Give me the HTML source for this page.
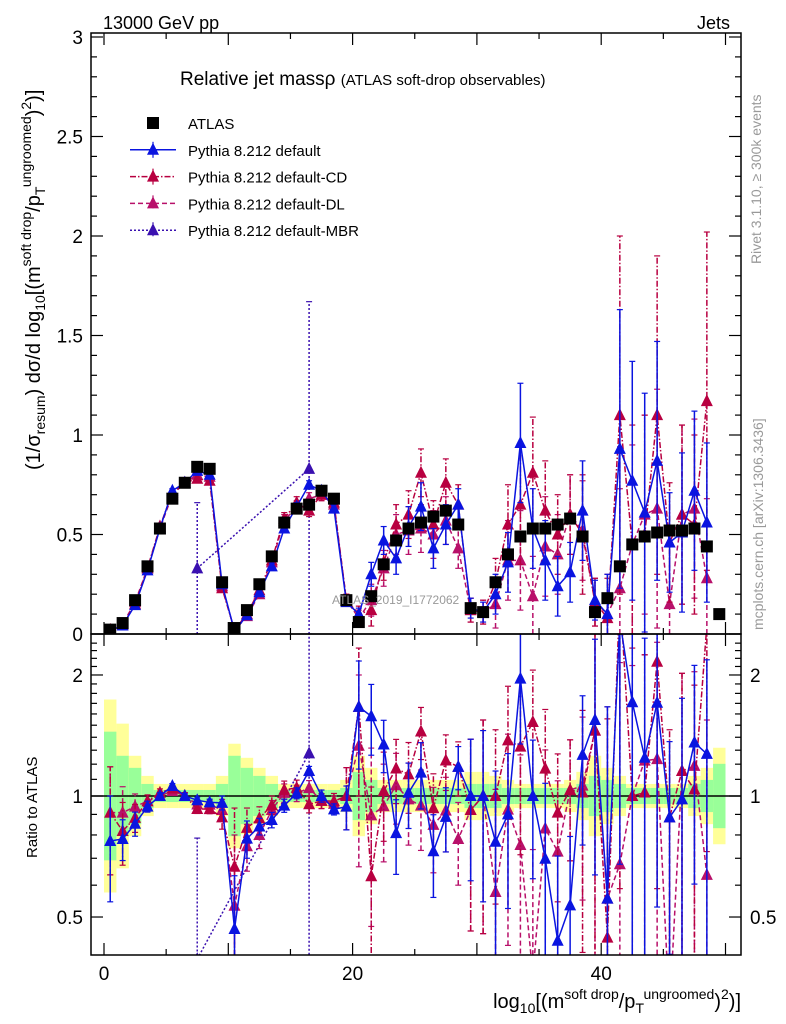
<!DOCTYPE html>
<html><head><meta charset="utf-8"><style>
html,body{margin:0;padding:0;background:#fff;width:786px;height:1024px;overflow:hidden;}
svg{display:block;font-family:"Liberation Sans",sans-serif;}
</style></head><body>
<svg id="chart" width="786" height="1024" viewBox="0 0 786 1024" xmlns="http://www.w3.org/2000/svg">
<defs>
<clipPath id="cm"><rect x="91" y="33" width="650" height="601"/></clipPath>
<clipPath id="cr"><rect x="91" y="634" width="650" height="321"/></clipPath>
</defs>
<g id="bands" clip-path="url(#cr)"></g>
<g id="ratio" clip-path="url(#cr)"></g>
<g id="main" clip-path="url(#cm)"></g>
<g id="axes"></g>
<text x="103" y="29" font-size="18">13000 GeV pp</text>
<text x="730" y="29" font-size="18" text-anchor="end">Jets</text>
<text x="180" y="85" font-size="19">Relative jet massρ <tspan font-size="15">(ATLAS soft-drop observables)</tspan></text>
<text x="332" y="604" font-size="12" fill="#999">ATLAS_2019_I1772062</text>
<text transform="translate(761,264) rotate(-90)" font-size="14" fill="#999">Rivet 3.1.10, ≥ 300k events</text>
<text transform="translate(763,630) rotate(-90)" font-size="14" fill="#999">mcplots.cern.ch [arXiv:1306.3436]</text>
<text transform="translate(40,470) rotate(-90)" font-size="20">(1/σ<tspan font-size="14" dy="5">resum</tspan><tspan dy="-5">) dσ/d log</tspan><tspan font-size="14" dy="5">10</tspan><tspan dy="-5">[(m</tspan><tspan font-size="14" dy="-9">soft drop</tspan><tspan dy="9">/p</tspan><tspan font-size="14" dy="5">T</tspan><tspan font-size="14" dy="-14">ungroomed</tspan><tspan dy="9">)</tspan><tspan font-size="14" dy="-9">2</tspan><tspan dy="9">)]</tspan></text>
<text transform="translate(37,858) rotate(-90)" font-size="15">Ratio to ATLAS</text>
<text x="741" y="1008" font-size="20" text-anchor="end">log<tspan font-size="14" dy="5">10</tspan><tspan dy="-5">[(m</tspan><tspan font-size="14" dy="-9">soft drop</tspan><tspan dy="9">/p</tspan><tspan font-size="14" dy="5">T</tspan><tspan font-size="14" dy="-14">ungroomed</tspan><tspan dy="9">)</tspan><tspan font-size="14" dy="-9">2</tspan><tspan dy="9">)]</tspan></text>
<g id="legend"></g>
</svg>
<script>
var atlas=[0.022,0.055,0.17,0.34,0.53,0.68,0.76,0.84,0.83,0.26,0.03,0.12,0.25,0.39,0.56,0.63,0.65,0.72,0.68,0.17,0.06,0.19,0.35,0.47,0.53,0.56,0.59,0.62,0.55,0.13,0.11,0.26,0.40,0.49,0.53,0.53,0.55,0.58,0.49,0.11,0.18,0.34,0.45,0.49,0.51,0.52,0.52,0.53,0.44,0.10];
var bandGreen=[0.16,0.1,0.07,0.03,0.015,0.015,0.015,0.015,0.015,0.03,0.1,0.07,0.05,0.03,0.015,0.015,0.015,0.015,0.015,0.02,0.06,0.04,0.02,0.02,0.02,0.02,0.02,0.02,0.02,0.03,0.03,0.03,0.02,0.02,0.02,0.02,0.02,0.02,0.03,0.05,0.04,0.03,0.02,0.02,0.02,0.02,0.02,0.03,0.04,0.08];
var bandYellow=[0.24,0.18,0.1,0.05,0.03,0.03,0.03,0.03,0.03,0.05,0.13,0.095,0.07,0.05,0.03,0.03,0.03,0.03,0.03,0.04,0.1,0.07,0.04,0.04,0.04,0.04,0.04,0.04,0.04,0.06,0.06,0.05,0.04,0.03,0.03,0.03,0.03,0.04,0.06,0.1,0.07,0.05,0.03,0.03,0.03,0.03,0.03,0.05,0.07,0.12];
var sDef=[0.017,0.043,0.145,0.32,0.53,0.72,0.76,0.82,0.80,0.25,0.014,0.094,0.21,0.34,0.53,0.64,0.75,0.72,0.63,0.16,0.10,0.30,0.47,0.38,0.54,0.64,0.43,0.55,0.65,0.13,0.11,0.20,0.36,0.96,0.53,0.37,0.24,0.31,0.62,0.17,0.10,0.93,0.77,0.61,0.87,0.46,0.51,0.72,0.56,null];
var eDef=[0.005,0.005,0.01,0.01,0.01,0.01,0.01,0.015,0.015,0.01,0.005,0.01,0.01,0.015,0.02,0.02,0.02,0.025,0.02,0.02,0.03,0.06,0.07,0.08,0.1,0.12,0.1,0.1,0.08,0.05,0.05,0.1,0.15,0.3,0.2,0.2,0.15,0.15,0.25,0.1,0.2,0.7,0.6,0.6,0.6,0.25,0.4,0.4,0.4,0];
var sCD=[0.02,0.045,0.15,0.33,0.54,0.71,0.76,0.78,0.77,0.23,0.02,0.10,0.22,0.37,0.58,0.66,0.62,0.70,0.66,0.17,0.10,0.12,0.36,0.55,0.60,0.81,0.55,0.76,0.65,0.12,0.11,0.26,0.55,0.65,0.81,0.62,0.50,0.60,0.50,0.16,0.08,1.10,0.45,0.50,1.10,0.46,0.60,0.55,1.17,null];
var eCD=[0.006,0.008,0.012,0.012,0.012,0.012,0.015,0.02,0.02,0.015,0.008,0.012,0.015,0.02,0.03,0.03,0.03,0.03,0.03,0.03,0.04,0.08,0.09,0.1,0.12,0.12,0.12,0.12,0.1,0.06,0.06,0.12,0.2,0.3,0.28,0.25,0.2,0.2,0.3,0.12,0.2,0.9,0.6,0.6,0.8,0.3,0.45,0.45,0.85,0];
var sDL=[0.02,0.05,0.16,0.33,0.53,0.70,0.76,0.80,0.79,0.24,0.016,0.09,0.20,0.36,0.57,0.64,0.68,0.70,0.65,0.17,0.08,0.17,0.33,0.50,0.52,0.53,0.50,0.57,0.43,0.12,0.11,0.15,0.37,0.37,0.19,0.44,0.40,0.60,0.52,0.16,0.10,0.23,0.45,0.60,0.63,0.15,0.60,0.63,0.28,null];
var eDL=[0.006,0.008,0.012,0.012,0.012,0.012,0.015,0.02,0.02,0.015,0.008,0.012,0.015,0.02,0.03,0.03,0.03,0.03,0.03,0.03,0.04,0.08,0.09,0.1,0.12,0.12,0.12,0.12,0.1,0.06,0.06,0.12,0.2,0.25,0.2,0.25,0.2,0.2,0.25,0.12,0.2,0.5,0.5,0.5,0.6,0.3,0.45,0.45,0.4,0];
var sMBR=[null,null,null,null,null,null,null,0.33,null,null,null,null,null,null,null,null,0.83,null,null,null,null,null,null,null,null,null,null,null,null,null,null,null,null,null,null,null,null,null,null,null,null,null,null,null,null,null,null,null,null,null];
var eMBR=[0,0,0,0,0,0,0,0.33,0,0,0,0,0,0,0,0,0.84,0,0,0,0,0,0,0,0,0,0,0,0,0,0,0,0,0,0,0,0,0,0,0,0,0,0,0,0,0,0,0,0,0];
var xTicks=[0,20,40];
var yTicksMain=[0,0.5,1,1.5,2,2.5,3];
var yTicksRatio=[0.5,1,2];

var NS='http://www.w3.org/2000/svg';
function X(v){return 104+12.43*v;}
function Y(v){return 634-199*v;}
function R(r){return 796-402*Math.log10(r);}
function mk(tag,at,parent){var e=document.createElementNS(NS,tag);for(var k in at)e.setAttribute(k,at[k]);parent.appendChild(e);return e;}
var gM=document.getElementById('main'),gR=document.getElementById('ratio'),gB=document.getElementById('bands'),gA=document.getElementById('axes'),gL=document.getElementById('legend');

for(var i=0;i<atlas.length;i++){
  var x0=X(i),w=X(i+1)-X(i);
  var by=mk('rect',{x:x0,y:R(Math.pow(10,bandYellow[i])),width:w,height:R(Math.pow(10,-bandYellow[i]))-R(Math.pow(10,bandYellow[i])),fill:'#ffff99'},gB);
  
  
  var bg=mk('rect',{x:x0,y:R(Math.pow(10,bandGreen[i])),width:w,height:R(Math.pow(10,-bandGreen[i]))-R(Math.pow(10,bandGreen[i])),fill:'#99ff99'},gB);
  
  
}
var one=mk('line',{x1:91,x2:741,y1:R(1),y2:R(1),stroke:'#000','stroke-width':1.5},gR);



function tri(g,x,y,c,name){
  var p=mk('polygon',{points:(x-6)+','+(y+5)+' '+(x+6)+','+(y+5)+' '+x+','+(y-7),fill:c},g);
  
  
}
function series(vals,errs,color,dash,name){
  [[gM,false],[gR,true]].forEach(function(pp){
    var g=pp[0],isR=pp[1];
    var pts=[];
    for(var i=0;i<vals.length;i++){
      if(vals[i]===null)continue;
      var cx=X(i+0.5),v=vals[i],e=errs[i];
      var cy,yl,yh;
      if(isR){cy=R(v/atlas[i]);yh=R((v+e)/atlas[i]);yl=R(Math.max(v-e,0.001)/atlas[i]);}
      else{cy=Y(v);yh=Y(v+e);yl=Y(Math.max(v-e,0));}
      pts.push(cx+','+cy);
      if(e>0){
        var eb=mk('line',{x1:cx,x2:cx,y1:yl,y2:yh,stroke:color,'stroke-width':1.5,'stroke-dasharray':dash},g);
        
        
        mk('line',{x1:cx-3,x2:cx+3,y1:yl,y2:yl,stroke:color,'stroke-width':1.2},g);
        mk('line',{x1:cx-3,x2:cx+3,y1:yh,y2:yh,stroke:color,'stroke-width':1.2},g);
      }
    }
    var pl=mk('polyline',{points:pts.join(' '),fill:'none',stroke:color,'stroke-width':1.5,'stroke-dasharray':dash},g);
    
    
    for(var i=0;i<vals.length;i++){
      if(vals[i]===null)continue;
      tri(g,X(i+0.5),isR?R(vals[i]/atlas[i]):Y(vals[i]),color,name+'-point');
    }
  });
}
series(sMBR,eMBR,'#3a10b0','2,2','mbr');
series(sDL,eDL,'#b8106a','5,3','dl');
series(sCD,eCD,'#b80040','6,2,1.5,2','cd');
series(sDef,eDef,'#0a14e0','','default');
for(var i=0;i<atlas.length;i++){
  var sq=mk('rect',{x:X(i+0.5)-6,y:Y(atlas[i])-6,width:12,height:12,fill:'#000'},gM);
  
  
}

[[33,634],[634,955]].forEach(function(f){
  var r=mk('rect',{x:91,y:f[0],width:650,height:f[1]-f[0],fill:'none',stroke:'#000','stroke-width':1.5},gA);
  
  
});
for(var v=0;v<=50;v+=5){
  var L=(v%10===0)?12:6;
  [634,955].forEach(function(yb){mk('line',{x1:X(v),x2:X(v),y1:yb,y2:yb-L,stroke:'#000','stroke-width':1.2},gA);});
  mk('line',{x1:X(v),x2:X(v),y1:33,y2:33+L,stroke:'#000','stroke-width':1.2},gA);
  mk('line',{x1:X(v),x2:X(v),y1:634,y2:634+L,stroke:'#000','stroke-width':1.2},gA);
}
xTicks.forEach(function(v){
  var t=mk('text',{x:X(v),y:980,'font-size':19,'text-anchor':'middle'},gA);t.textContent=v;
  
  
});
for(var k=0;k<=30;k++){
  var v=k/10,L=(k%5===0)?12:6;
  mk('line',{x1:91,x2:91+L,y1:Y(v),y2:Y(v),stroke:'#000','stroke-width':1.2},gA);
  mk('line',{x1:741,x2:741-L,y1:Y(v),y2:Y(v),stroke:'#000','stroke-width':1.2},gA);
}
yTicksMain.forEach(function(v){
  var t=mk('text',{x:83,y:Y(v)+7,'font-size':19,'text-anchor':'end'},gA);t.textContent=String(v);
  
  
});
[0.5,0.6,0.7,0.8,0.9,1,2].forEach(function(v){
  var L=(v===0.5||v===1||v===2)?12:6;
  mk('line',{x1:91,x2:91+L,y1:R(v),y2:R(v),stroke:'#000','stroke-width':1.2},gA);
  mk('line',{x1:741,x2:741-L,y1:R(v),y2:R(v),stroke:'#000','stroke-width':1.2},gA);
});
for(var v=1.1;v<2.5;v+=0.1){if(Math.abs(v-2)<0.01)continue;
  mk('line',{x1:91,x2:97,y1:R(v),y2:R(v),stroke:'#000','stroke-width':1.2},gA);
  mk('line',{x1:741,x2:735,y1:R(v),y2:R(v),stroke:'#000','stroke-width':1.2},gA);}
yTicksRatio.forEach(function(v){
  var t=mk('text',{x:83,y:R(v)+7,'font-size':19,'text-anchor':'end'},gA);t.textContent=String(v);
  
  
  var t2=mk('text',{x:750,y:R(v)+7,'font-size':19},gA);t2.textContent=String(v);
  
  
});
var leg=[['ATLAS','#000',null],['Pythia 8.212 default','#0a14e0',''],['Pythia 8.212 default-CD','#b80040','6,2,1.5,2'],['Pythia 8.212 default-DL','#b8106a','5,3'],['Pythia 8.212 default-MBR','#3a10b0','2,2']];
leg.forEach(function(l,i){
  var y=123+26.8*i;
  var g=mk('g',{},gL);
  
  
  if(l[2]===null){mk('rect',{x:147,y:y-6,width:12,height:12,fill:'#000'},g);}
  else{
    mk('line',{x1:130,x2:176,y1:y,y2:y,stroke:l[1],'stroke-width':1.5,'stroke-dasharray':l[2]},g);
    mk('line',{x1:153,x2:153,y1:y-8,y2:y+8,stroke:l[1],'stroke-width':1.2,'stroke-dasharray':l[2]},g);
    tri(g,153,y,l[1],'legend-marker');
  }
  var t=mk('text',{x:188,y:y+6,'font-size':15},g);t.textContent=l[0];
});
</script>
</body></html>
